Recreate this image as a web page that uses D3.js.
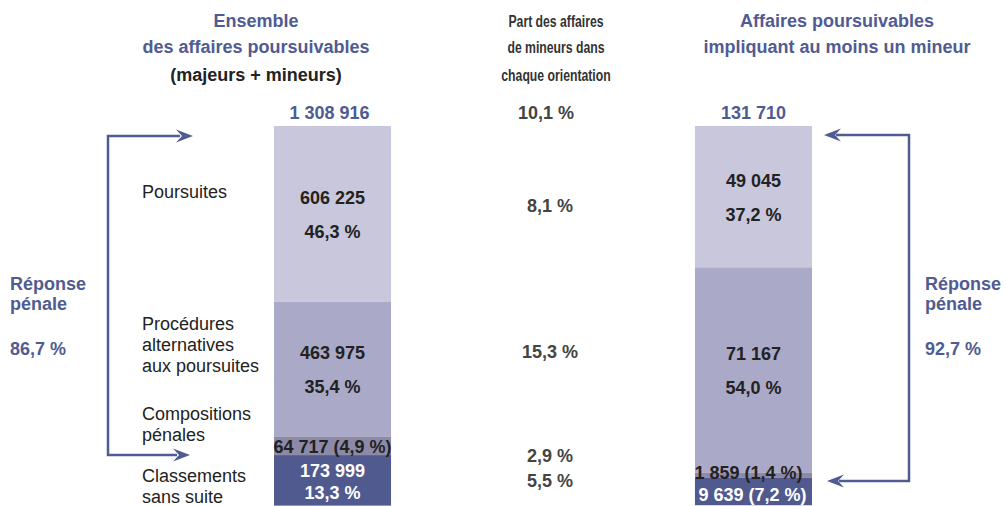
<!DOCTYPE html>
<html>
<head>
<meta charset="utf-8">
<script src="https://cdn.jsdelivr.net/npm/d3@7"></script>
<style>
  body { margin: 0; background: #fff; }
  svg { display: block; font-family: "Liberation Sans", Arial, sans-serif; }
</style>
</head>
<body>
<div id="chart"></div>
<script>
// Orientation des affaires poursuivables
const categories = ["Poursuites", "Procédures\nalternatives\naux poursuites", "Compositions\npénales", "Classements\nsans suite"];
const allCounts = [606225, 463975, 64717, 173999];
const allPct = [46.3, 35.4, 4.9, 13.3];
const minorCounts = [49045, 71167, 1859, 9639];
const minorPct = [37.2, 54.0, 1.4, 7.2];
const minorShare = [8.1, 15.3, 2.9, 5.5];
const totals = [1308916, 131710];
const totalShare = 10.1;
const penalResponse = [86.7, 92.7];

const width = 1006, height = 506;
const blue = "#505b92", dark = "#222", grey = "#444";
const segColors = ["#c9c7db", "#aaa9c7", "#8c8aa8", "#515a8f"];

const fr = d3.formatLocale({ decimal: ",", thousands: "\u00a0", grouping: [3], currency: ["", " €"] });
const fmtN = fr.format(",d");
const fmtP = d => fr.format(".1f")(d) + "\u00a0%";

const svg = d3.select("#chart")
    .append("svg")
    .attr("width", width)
    .attr("height", height);

// bars
const x = d3.scaleBand()
    .domain(["ensemble", "mineurs"])
    .range([274, 812])
    .paddingInner(0.722);

const y = d3.scaleLinear()
    .domain([0, 100])
    .range([126, 506]);

function stack(pcts) {
    let acc = 0;
    return pcts.map((p, i) => {
        const d = { i, y0: acc, y1: acc + p };
        acc += p;
        return d;
    });
}
const allStack = stack(allPct);
const minStack = stack(minorPct);

[["ensemble", allStack], ["mineurs", minStack]].forEach(([key, st]) => {
    svg.append("g").selectAll("rect")
        .data(st)
        .enter().append("rect")
        .attr("x", x(key))
        .attr("width", x.bandwidth())
        .attr("y", d => y(d.y0))
        .attr("height", d => y(d.y1) - y(d.y0))
        .attr("fill", d => segColors[d.i]);
});

function txt(xp, yp, s, opts = {}) {
    return svg.append("text")
        .attr("x", xp)
        .attr("y", yp)
        .attr("text-anchor", opts.anchor || "middle")
        .attr("font-size", opts.size || 18)
        .attr("font-weight", opts.weight || "bold")
        .attr("fill", opts.fill || dark)
        .text(s);
}

// headers
const cL = 256, cM = 556, cR = 837;
txt(cL, 27, "Ensemble", { fill: blue });
txt(cL, 53, "des affaires poursuivables", { fill: blue });
txt(cL, 81, "(majeurs + mineurs)");
["Part des affaires", "de mineurs dans", "chaque orientation"].forEach((s, i) => {
    txt(0, [27, 53, 81][i], s, { size: 17, fill: "#333" })
        .attr("transform", `translate(${cM},0) scale(0.72,1)`);
});
txt(cR, 27, "Affaires poursuivables", { fill: blue });
txt(cR, 53, "impliquant au moins un mineur", { fill: blue });

// totals
const xa = x("ensemble") + x.bandwidth() / 2;
const xm = x("mineurs") + x.bandwidth() / 2;
const xs = 550;
txt(xa - 3, 119, fmtN(totals[0]), { fill: blue });
txt(xm, 119, fmtN(totals[1]), { fill: blue });
txt(xs - 4, 119, fmtP(totalShare), { fill: grey });

// labels inside the bars
function barLabels(xc, st, counts, pcts) {
    st.forEach(d => {
        const top = y(d.y0), bot = y(d.y1), mid = (top + bot) / 2;
        if (d.i < 2) {
            txt(xc, mid - 10, fmtN(counts[d.i]));
            txt(xc, mid + 24, fmtP(pcts[d.i]));
        }
    });
}
barLabels(xa, allStack, allCounts, allPct);
barLabels(xm, minStack, minorCounts, minorPct);

// small segments, left bar
txt(xa, y(allStack[2].y1) - 2, `${fmtN(allCounts[2])} (${fmtP(allPct[2])})`);
txt(xa, y(allStack[3].y0) + 22, fmtN(allCounts[3]), { fill: "#fff" });
txt(xa, y(allStack[3].y0) + 44, fmtP(allPct[3]), { fill: "#fff" });
// small segments, right bar
txt(xm - 5, y(minStack[2].y1) + 1, `${fmtN(minorCounts[2])} (${fmtP(minorPct[2])})`);
txt(xm - 1, y(minStack[3].y1) - 4, `${fmtN(minorCounts[3])} (${fmtP(minorPct[3])})`, { fill: "#fff" });

// share of minors per orientation
minorShare.forEach((v, i) => {
    const st = allStack[i];
    let yy;
    if (i < 2) yy = (y(st.y0) + y(st.y1)) / 2 + (i === 0 ? -2 : -11);
    else yy = y(allStack[2].y1) + (i === 2 ? 7 : 32);
    txt(xs, yy, fmtP(v), { fill: grey });
});

// category labels
const catY = [
    (y(allStack[0].y0) + y(allStack[0].y1)) / 2 - 16,
    (y(allStack[1].y0) + y(allStack[1].y1)) / 2 - 39,
    y(allStack[2].y0) - 16,
    y(allStack[3].y0) + 27
];
categories.forEach((c, i) => {
    c.split("\n").forEach((line, j) => {
        txt(142, catY[i] + j * 21, line, { anchor: "start", weight: "normal", fill: dark });
    });
});

// arrows "réponse pénale"
function arrowHead(tipX, tipY, dir) {
    const L = 17, W = 6.5, notch = 11;
    svg.append("path")
        .attr("d", `M${tipX},${tipY} L${tipX - dir * L},${tipY - W} L${tipX - dir * notch},${tipY} L${tipX - dir * L},${tipY + W} Z`)
        .attr("fill", blue);
}
const arrTop = y(0) + 10;
const lBot = y(allStack[2].y1);
const rBot = y(minStack[2].y1) + 3;

svg.append("path")
    .attr("d", `M${192 - 12},${arrTop} H108 V${lBot} H${189 - 12}`)
    .attr("fill", "none")
    .attr("stroke", blue)
    .attr("stroke-width", 2.5);
arrowHead(193, arrTop, 1);
arrowHead(190, lBot, 1);

svg.append("path")
    .attr("d", `M${824 + 12},${arrTop - 1} H909 V${rBot} H${827 + 12}`)
    .attr("fill", "none")
    .attr("stroke", blue)
    .attr("stroke-width", 2.5);
arrowHead(824, arrTop - 1, -1);
arrowHead(827, rBot, -1);

[[10, penalResponse[0]], [925, penalResponse[1]]].forEach(([px, v]) => {
    txt(px, 290, "Réponse", { anchor: "start", fill: blue });
    txt(px, 310, "pénale", { anchor: "start", fill: blue });
    txt(px, 355, fmtP(v), { anchor: "start", fill: blue });
});
</script>
</body>
</html>
